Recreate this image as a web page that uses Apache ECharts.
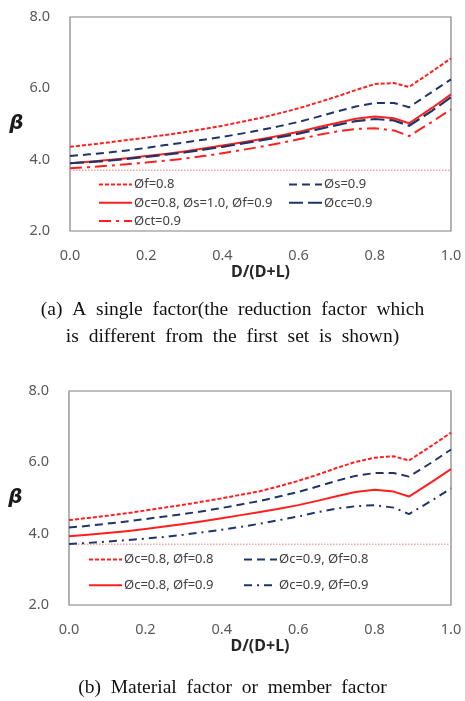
<!DOCTYPE html>
<html>
<head>
<meta charset="utf-8">
<script src="https://cdn.jsdelivr.net/npm/echarts@6/dist/echarts.min.js"></script>
<style>
html,body{margin:0;padding:0;background:#fff;}
#main{width:465px;height:701px;}
</style>
</head>
<body>
<div id="main"></div>
<script>
// x positions D/(D+L)
const xs = [0,0.05,0.1,0.15,0.2,0.25,0.3,0.35,0.4,0.45,0.5,0.55,0.6,0.65,0.7,0.75,0.8,0.85,0.89,0.95,1.0];
const xTicks = [0,0.2,0.4,0.6,0.8,1.0];
const yTicks = [2,4,6,8];
const target = 3.7;

// (a) single factor
const a_f08  = [4.36,4.42,4.48,4.55,4.62,4.69,4.77,4.86,4.95,5.06,5.17,5.30,5.44,5.60,5.77,5.95,6.12,6.15,6.04,6.47,6.84];
const a_s09  = [4.10,4.15,4.20,4.26,4.33,4.41,4.48,4.56,4.64,4.73,4.83,4.94,5.06,5.20,5.35,5.49,5.59,5.59,5.47,5.90,6.25];
const a_base = [3.90,3.94,3.99,4.04,4.10,4.16,4.23,4.31,4.40,4.48,4.57,4.67,4.78,4.91,5.03,5.15,5.21,5.16,5.02,5.45,5.83];
const a_cc09 = [3.90,3.93,3.97,4.02,4.08,4.14,4.20,4.28,4.36,4.45,4.54,4.63,4.73,4.85,4.97,5.08,5.14,5.10,4.95,5.37,5.75];
const a_ct09 = [3.76,3.79,3.83,3.87,3.92,3.97,4.03,4.10,4.18,4.27,4.36,4.46,4.57,4.69,4.79,4.86,4.88,4.82,4.66,5.06,5.41];

// (b) material / member factor
const b_c08f08 = [4.38,4.44,4.50,4.57,4.65,4.73,4.81,4.90,4.99,5.09,5.19,5.33,5.48,5.65,5.84,6.01,6.13,6.17,6.05,6.47,6.83];
const b_c09f08 = [4.17,4.22,4.28,4.34,4.41,4.48,4.55,4.63,4.72,4.82,4.92,5.04,5.17,5.32,5.48,5.62,5.70,5.70,5.60,6.00,6.36];
const b_c08f09 = [3.93,3.97,4.02,4.07,4.13,4.20,4.27,4.35,4.43,4.52,4.61,4.70,4.80,4.92,5.05,5.17,5.23,5.18,5.04,5.45,5.81];
const b_c09f09 = [3.71,3.74,3.78,3.82,3.86,3.91,3.97,4.04,4.11,4.19,4.28,4.38,4.48,4.60,4.70,4.77,4.80,4.73,4.55,4.93,5.27];

const namesA = ['Øf=0.8','Øs=0.9','Øc=0.8, Øs=1.0, Øf=0.9','Øcc=0.9','Øct=0.9'];
const namesB = ['Øc=0.8, Øf=0.8','Øc=0.9, Øf=0.8','Øc=0.8, Øf=0.9','Øc=0.9, Øf=0.9'];

const RED = '#ff1f1f', NAVY = '#1f3566';
const FONT = 'Noto Sans';
const pair = (ys) => xs.map((x,i)=>[x, ys[i]]);

function ser(name, ys, idx, color, type, width){
  return {
    name: name, type: 'line', xAxisIndex: idx, yAxisIndex: idx,
    data: pair(ys), symbol: 'none', showSymbol: false, smooth: false,
    lineStyle: {color: color, width: width || 2, type: type, join: 'round'},
    itemStyle: {color: color}
  };
}
function targetSeries(idx){
  return {
    name: 'target' + idx, type: 'line', xAxisIndex: idx, yAxisIndex: idx,
    data: [[xTicks[0], target], [xTicks[xTicks.length-1], target]],
    symbol: 'none', silent: true,
    lineStyle: {color: '#f5a3a3', width: 1.5, type: [1.5, 1.5]}
  };
}
function xAx(idx){
  return {
    type: 'value', gridIndex: idx, min: 0, max: 1, interval: 0.2,
    name: 'D/(D+L)', nameLocation: 'middle', nameGap: 33,
    nameTextStyle: {fontFamily: FONT, fontWeight: 'bold', fontSize: 16, color: '#262626'},
    axisLine: {show: false}, axisTick: {show: false}, splitLine: {show: false},
    axisLabel: {margin: 17, fontFamily: FONT, fontSize: 14.5, color: '#595959',
      formatter: v => v.toFixed(1)}
  };
}
function yAx(idx, pad){
  return {
    type: 'value', gridIndex: idx, min: 2, max: 8, interval: 2,
    name: 'β', nameLocation: 'middle', nameGap: 45, nameRotate: 0,
    nameTextStyle: {fontFamily: 'DejaVu Sans', fontWeight: 'bold', fontStyle: 'italic', fontSize: 20, color: '#1a1a1a', padding: [0,0,pad,0]},
    axisLine: {show: false}, axisTick: {show: false}, splitLine: {show: false},
    axisLabel: {margin: 20, fontFamily: FONT, fontSize: 14.5, color: '#595959',
      formatter: v => v.toFixed(1)}
  };
}
function leg(data, left, top, gap){
  return {
    data: data, left: left, top: top, orient: 'vertical', padding: 0,
    itemWidth: 33, itemHeight: 14, itemGap: gap, selectedMode: false,
    itemStyle: {color: 'transparent', borderColor: 'transparent', borderWidth: 0, opacity: 0},
    textStyle: {fontFamily: FONT, fontSize: 13, color: '#404040', padding: [0,0,0,-3]}
  };
}

const chart = echarts.init(document.getElementById('main'), null, {renderer: 'canvas'});
chart.setOption({
  backgroundColor: '#fff',
  animation: false,
  grid: [
    {left: 70, width: 381, top: 17, height: 214, show: true, borderColor: '#808080', borderWidth: 1.2},
    {left: 69, width: 382, top: 391, height: 214, show: true, borderColor: '#808080', borderWidth: 1.2}
  ],
  xAxis: [xAx(0), xAx(1)],
  yAxis: [yAx(0, 16), yAx(1, 24)],
  legend: [
    leg([namesA[0], namesA[2], namesA[4]], 98, 178, 5.3),
    leg([namesA[1], namesA[3]], 288, 178, 5.3),
    leg([namesB[0], namesB[2]], 88, 553, 12.7),
    leg([namesB[1], namesB[3]], 243, 553, 12.7)
  ],
  series: [
    targetSeries(0),
    ser(namesA[0], a_f08, 0, RED, [4, 2]),
    ser(namesA[1], a_s09, 0, NAVY, [8, 5]),
    ser(namesA[2], a_base, 0, RED, 'solid'),
    ser(namesA[3], a_cc09, 0, NAVY, [14, 5], 2.2),
    ser(namesA[4], a_ct09, 0, RED, [12, 5, 3, 5]),
    targetSeries(1),
    ser(namesB[0], b_c08f08, 1, RED, [4, 2]),
    ser(namesB[1], b_c09f08, 1, NAVY, [8, 5]),
    ser(namesB[2], b_c08f09, 1, RED, 'solid'),
    ser(namesB[3], b_c09f09, 1, NAVY, [8, 5, 2, 5])
  ],
  graphic: [
    {type: 'text', left: 'center', top: 300, style: {text: '(a)  A  single  factor(the  reduction  factor  which', fontFamily: 'Liberation Serif', fontSize: 19.5, fill: '#111'}},
    {type: 'text', left: 'center', top: 327, style: {text: 'is  different  from  the  first  set  is  shown)', fontFamily: 'Liberation Serif', fontSize: 19.5, fill: '#111'}},
    {type: 'text', left: 'center', top: 678, style: {text: '(b)  Material  factor  or  member  factor', fontFamily: 'Liberation Serif', fontSize: 19.5, fill: '#111'}}
  ]
});
</script>
</body>
</html>
